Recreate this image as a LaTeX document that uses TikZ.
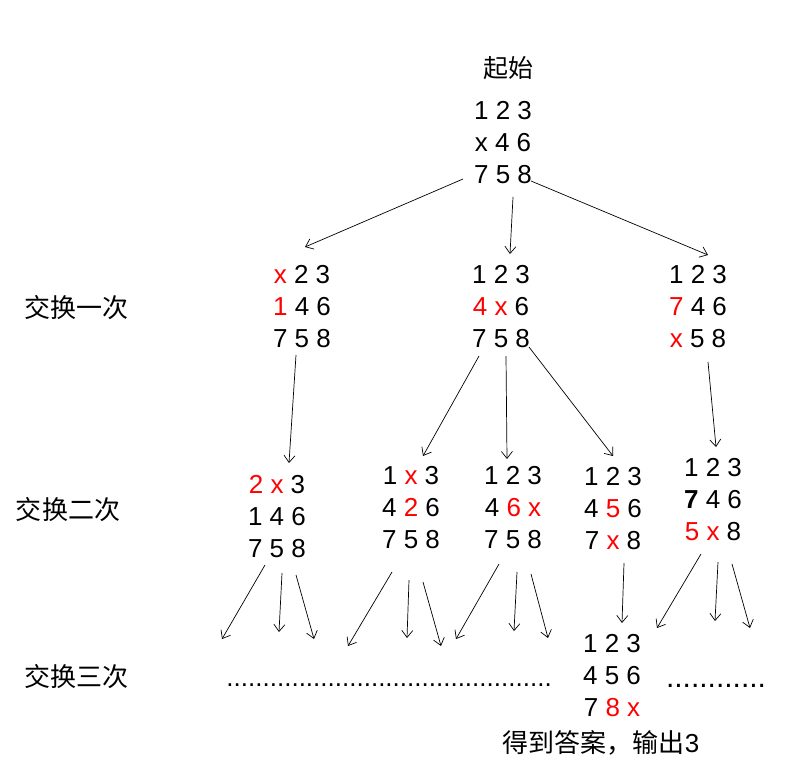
\documentclass[tikz,border=0pt]{standalone}
\usepackage{fontspec}
\setmainfont{Liberation Sans}
\newfontfamily\cjk{Noto Sans CJK SC}
\usetikzlibrary{arrows.meta}
\definecolor{hl}{RGB}{255,0,0}
\tikzset{
  board/.style={inner sep=0pt, align=center, font=\fontsize{26}{32}\selectfont},
  lbl/.style={inner sep=0pt, font=\cjk\fontsize{26}{30}\selectfont},
  dots/.style={inner sep=0pt, font=\fontsize{26}{30}\selectfont},
  arr/.style={line width=0.7pt, -{Straight Barb[length=7pt,width=11pt]}}
}
\newcommand{\rd}[1]{\textcolor{hl}{#1}}
\begin{document}
\begin{tikzpicture}[x=1pt,y=-1pt]
\useasboundingbox (0,0) rectangle (810,769);
% labels
\node[lbl, font=\cjk\fontsize{25}{30}\selectfont] (start) at (508,68) {起始};
\node[lbl] (s1) at (76,308) {交换一次};
\node[lbl] (s2) at (68,510) {交换二次};
\node[lbl] (s3) at (76,677) {交换三次};
% boards
\node[board] (top) at (503,143) {1 2 3\\x 4 6\\7 5 8};
\node[board] (l) at (302,307) {\rd{x} 2 3\\\rd{1} 4 6\\7 5 8};
\node[board] (m) at (501,307) {1 2 3\\\rd{4} \rd{x} 6\\7 5 8};
\node[board] (r) at (698,307) {1 2 3\\\rd{7} 4 6\\\rd{x} 5 8};
\node[board] (a) at (277,517) {\rd{2} \rd{x} 3\\1 4 6\\7 5 8};
\node[board] (b) at (411,508) {1 \rd{x} 3\\4 \rd{2} 6\\7 5 8};
\node[board] (c) at (513,508) {1 2 3\\4 \rd{6} \rd{x}\\7 5 8};
\node[board] (d) at (613,509) {1 2 3\\4 \rd{5} 6\\7 \rd{x} 8};
\node[board] (e) at (713,500) {1 2 3\\\textbf{7} 4 6\\\rd{5} \rd{x} 8};
\node[board] (ans) at (612,676) {1 2 3\\4 5 6\\7 \rd{8} \rd{x}};
\node[lbl] (out) at (601,743) {得到答案，输出\fontspec{Liberation Sans}3};
% dotted texts
\node[dots] (dl) at (389,685) {.............................................};
\node[dots, font=\fontsize{30}{30}\selectfont] (dr) at (716,686) {............};
% level 0 -> 1
\draw[arr] ([shift={(-40,36)}]top.center) -- ([shift={(3,-60)}]l.center);
\draw[arr] ([shift={(10,54)}]top.center) -- ([shift={(9,-53)}]m.center);
\draw[arr] ([shift={(28,38)}]top.center) -- ([shift={(10,-52)}]r.center);
% level 1 -> 2
\draw[arr] ([shift={(-6,48)}]l.center) -- ([shift={(12,-54)}]a.center);
\draw[arr] ([shift={(-22,49)}]m.center) -- ([shift={(12,-52)}]b.center);
\draw[arr] ([shift={(5,49)}]m.center) -- ([shift={(-6,-49)}]c.center);
\draw[arr] ([shift={(28,40)}]m.center) -- ([shift={(0,-53)}]d.center);
\draw[arr] ([shift={(10,55)}]r.center) -- ([shift={(3,-53)}]e.center);
% level 2 -> 3
\coordinate (a1) at (222,639);
\coordinate (a2) at (279,632);
\coordinate (a3) at (314,639);
\coordinate (b1) at (348,646);
\coordinate (b2) at (407,638);
\coordinate (b3) at (441,646);
\coordinate (c1) at (456,639);
\coordinate (c2) at (514,631);
\coordinate (c3) at (548,638);
\coordinate (e1) at (657,628);
\coordinate (e2) at (715,621);
\coordinate (e3) at (750,628);
\draw[arr] ([shift={(-12,48)}]a.center) -- (a1);
\draw[arr] ([shift={(5,56)}]a.center) -- (a2);
\draw[arr] ([shift={(19,58)}]a.center) -- (a3);
\draw[arr] ([shift={(-19,64)}]b.center) -- (b1);
\draw[arr] ([shift={(-2,72)}]b.center) -- (b2);
\draw[arr] ([shift={(12,74)}]b.center) -- (b3);
\draw[arr] ([shift={(-14,56)}]c.center) -- (c1);
\draw[arr] ([shift={(4,64)}]c.center) -- (c2);
\draw[arr] ([shift={(18,66)}]c.center) -- (c3);
\draw[arr] ([shift={(11,54)}]d.center) -- ([shift={(10,-53)}]ans.center);
\draw[arr] ([shift={(-12,54)}]e.center) -- (e1);
\draw[arr] ([shift={(5,62)}]e.center) -- (e2);
\draw[arr] ([shift={(19,64)}]e.center) -- (e3);
\end{tikzpicture}
\end{document}
